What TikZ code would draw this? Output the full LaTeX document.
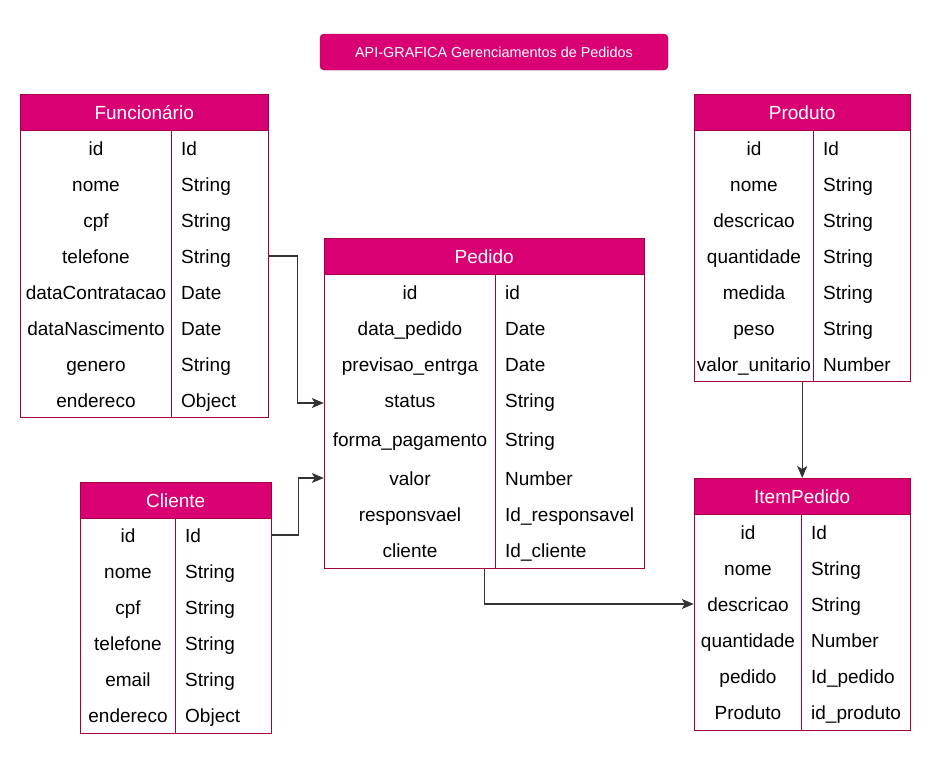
\documentclass[tikz,border=0pt]{standalone}
\usepackage{fontspec}
\setmainfont{Liberation Sans}
\usetikzlibrary{positioning, arrows.meta}
\definecolor{pinkhead}{HTML}{D80073}
\definecolor{pinkline}{HTML}{A50040}

\begin{document}
\begin{tikzpicture}[x=1pt, y=-1pt,
        header/.style={draw=pinkline, fill=pinkhead, text=white, inner sep=0pt, minimum height=36pt, anchor=north west, text height=15pt, text depth=1pt, font=\fontsize{19}{22}\selectfont},
        tablebody/.style={draw=pinkline, line width=0.8pt, inner sep=0pt, anchor=north},
        divider/.style={draw=pinkline, line width=0.8pt},
        field/.style={inner sep=0pt, text height=15pt, text depth=1pt, font=\fontsize{19}{22}\selectfont},
        ftype/.style={field, anchor=west},
        titlebox/.style={draw=pinkline, fill=pinkhead, text=white, rounded corners=4pt, minimum width=348pt, minimum height=36pt, font=\fontsize{14.4}{17}\selectfont},
        link/.style={draw=black!80, line width=1.1pt, -{Stealth[length=12pt,width=10pt,inset=3pt]}}]
            \useasboundingbox (0,0) rectangle (930,758);
            \node[titlebox] (title) at (494,52) {API-GRAFICA Gerenciamentos de Pedidos};
            \node[header, minimum width=248pt] (func) at (20,94) {Funcionário};
            \node[tablebody, minimum width=248pt, minimum height=287pt] (funcbody) at (func.south) {};
            \draw[divider] ([xshift=152pt]funcbody.north west) -- ([xshift=152pt]funcbody.south west);
            \foreach \n/\t [count=\i] in {id/Id, nome/String, cpf/String, telefone/String, dataContratacao/Date, dataNascimento/Date, genero/String, endereco/Object}{%
                    \node[field] (funcN\i) at (96,112+36*\i) {\n};
                    \node[ftype] (funcT\i) at (181,112+36*\i) {\t};
                }
            \node[header, minimum width=320pt] (ped) at (324,238) {Pedido};
            \node[tablebody, minimum width=320pt, minimum height=294pt] (pedbody) at (ped.south) {};
            \draw[divider] ([xshift=172pt]pedbody.north west) -- ([xshift=172pt]pedbody.south west);
            \foreach \n/\t/\y [count=\i] in {id/id/292, data\_pedido/Date/328, previsao\_entrga/Date/364, status/String/400, forma\_pagamento/String/439, valor/Number/478, responsvael/Id\_responsavel/514, cliente/Id\_cliente/550}{%
                    \node[field] (pedN\i) at (410,\y) {\n};
                    \node[ftype] (pedT\i) at (505,\y) {\t};
                }
            \node[header, minimum width=216pt] (prod) at (694,94) {Produto};
            \node[tablebody, minimum width=216pt, minimum height=251pt] (prodbody) at (prod.south) {};
            \draw[divider] ([xshift=120pt]prodbody.north west) -- ([xshift=120pt]prodbody.south west);
            \foreach \n/\t [count=\i] in {id/Id, nome/String, descricao/String, quantidade/String, medida/String, peso/String, valor\_unitario/Number}{%
                    \node[field] (prodN\i) at (754,112+36*\i) {\n};
                    \node[ftype] (prodT\i) at (823,112+36*\i) {\t};
                }
            \node[header, minimum width=216pt] (item) at (694,478) {ItemPedido};
            \node[tablebody, minimum width=216pt, minimum height=216pt] (itembody) at (item.south) {};
            \draw[divider] ([xshift=108pt]itembody.north west) -- ([xshift=108pt]itembody.south west);
            \foreach \n/\t [count=\i] in {id/Id, nome/String, descricao/String, quantidade/Number, pedido/Id\_pedido, Produto/id\_produto}{%
                    \node[field] (itemN\i) at (748,496+36*\i) {\n};
                    \node[ftype] (itemT\i) at (811,496+36*\i) {\t};
                }
            \node[header, minimum width=191pt] (cli) at (80,482) {Cliente};
            \node[tablebody, minimum width=191pt, minimum height=215pt] (clibody) at (cli.south) {};
            \draw[divider] ([xshift=96pt]clibody.north west) -- ([xshift=96pt]clibody.south west);
            \foreach \n/\t [count=\i] in {id/Id, nome/String, cpf/String, telefone/String, email/String, endereco/Object}{%
                    \node[field] (cliN\i) at (128,499+36*\i) {\n};
                    \node[ftype] (cliT\i) at (185,499+36*\i) {\t};
                }
            \draw[link] (funcbody.east |- funcT4) -- ++(29,0) |- ([yshift=-3pt]pedbody.west |- pedN4);
            \draw[link] (clibody.east |- cliT1) -- ++(27,0) |- (pedbody.west |- pedN6);
            \draw[link] (pedbody.south) |- (itembody.west |- itemN3);
            \draw[link] (prodbody.south) -- (item.north);
        \end{tikzpicture}
\end{document}
